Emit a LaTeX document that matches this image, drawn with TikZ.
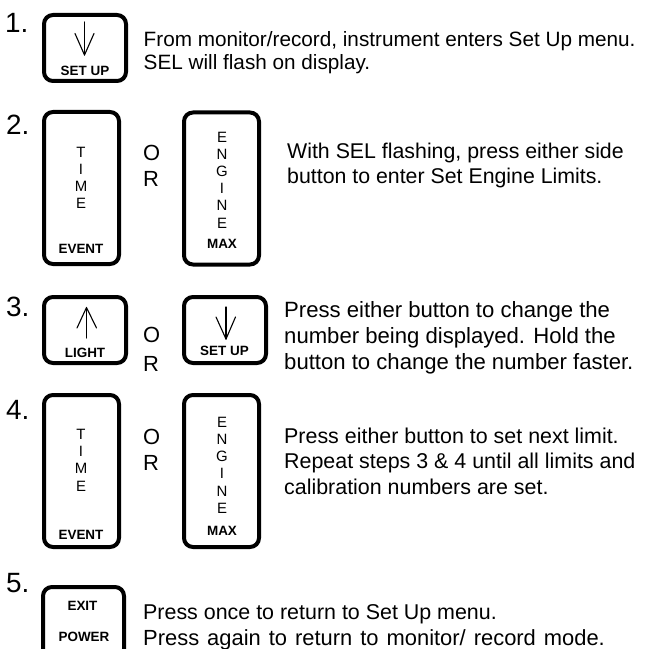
\documentclass[tikz,border=0pt]{standalone}
\usepackage{fontspec}
\setmainfont{Liberation Sans}
\begin{document}
\begin{tikzpicture}[x=1bp,y=-1bp,
  btn/.style={draw, line width=4bp, rounded corners=9bp, inner sep=0pt},
  wide/.style={btn, minimum width=82bp, minimum height=66bp},
  tall/.style={btn, minimum width=75bp, minimum height=152bp},
  num/.style={anchor=base west, inner sep=0pt, font=\fontsize{28}{28}\selectfont},
  txt/.style={anchor=base west, inner sep=0pt},
  lab/.style={inner sep=0pt, font=\bfseries\fontsize{13.5}{14}\selectfont},
  vert/.style={inner sep=0pt, align=center, font=\fontsize{15}{17.3}\selectfont},
  orl/.style={anchor=base west, inner sep=0pt, font=\fontsize{22}{22}\selectfont},
  arr/.style={line width=1.1bp, line cap=round, line join=round}]
\useasboundingbox (0,0) rectangle (651,649);

% ---------- step 1
\node[num] (n1) at (5,33) {1.};
\node[wide] (b1) at (85,48) {};
\node[lab] (l1) at (85,71) {SET UP};
\draw[arr] (84.5,22) -- (84.5,55);
\draw[arr] (75,33.5) -- (84.5,55) -- (94,33.5);
\begin{scope}[font=\fontsize{20.8}{23}\selectfont]
\node[txt] (t1a) at (143.5,47) {From monitor/record, instrument enters Set Up menu.};
\node[txt] (t1b) at (143.5,70) {SEL will flash on display.};
\end{scope}

% ---------- step 2
\node[num] (n2) at (6,134) {2.};
\node[tall] (b2a) at (81.5,188) {};
\node[vert] (v2a) at (81,178) {T\\I\\M\\E};
\node[lab] (l2a) at (81,248.5) {EVENT};
\node[orl] (o2a) at (143,160) {O};
\node[orl] (o2b) at (143,186) {R};
\node[tall] (b2b) at (221.5,188.5) {};
\node[vert] (v2b) at (222,180) {E\\N\\G\\I\\N\\E};
\node[lab] (l2b) at (222,244) {MAX};
\begin{scope}[font=\fontsize{21.4}{25}\selectfont]
\node[txt] (t2a) at (287,158) {With SEL flashing, press either side};
\node[txt] (t2b) at (287,183) {button to enter Set Engine Limits.};
\end{scope}

% ---------- step 3
\node[num] (n3) at (6,316) {3.};
\node[wide] (b3a) at (85,330) {};
\node[lab] (l3a) at (85,353) {LIGHT};
\draw[arr] (86.5,307.5) -- (86.5,338);
\draw[arr] (77,328) -- (86.5,307.5) -- (96.5,328);
\node[orl] (o3a) at (143,342) {O};
\node[orl] (o3b) at (143,371) {R};
\node[wide] (b3b) at (225,330) {};
\node[lab] (l3b) at (224.5,351) {SET UP};
\draw[arr] (226,307) -- (226,339);
\draw[arr] (216,317) -- (226,339) -- (235.5,317);
\begin{scope}[font=\fontsize{22.2}{26}\selectfont]
\node[txt] (t3a) at (284,317) {Press either button to change the};
\node[txt] (t3b) at (284,343) {number being displayed. Hold the};
\node[txt] (t3c) at (284,369) {button to change the number faster.};
\end{scope}

% ---------- step 4
\node[num] (n4) at (6,419) {4.};
\node[tall] (b4a) at (81.5,471) {};
\node[vert] (v4a) at (81,460) {T\\I\\M\\E};
\node[lab] (l4a) at (81,535) {EVENT};
\node[orl] (o4a) at (143,444) {O};
\node[orl] (o4b) at (143,470) {R};
\node[tall] (b4b) at (221.5,471) {};
\node[vert] (v4b) at (222,465) {E\\N\\G\\I\\N\\E};
\node[lab] (l4b) at (222,530.5) {MAX};
\begin{scope}[font=\fontsize{21.5}{25.5}\selectfont]
\node[txt] (t4a) at (284,443) {Press either button to set next limit.};
\node[txt] (t4b) at (284,468.5) {Repeat steps 3 \& 4 until all limits and};
\node[txt] (t4c) at (284,494) {calibration numbers are set.};
\end{scope}

% ---------- step 5
\node[num] (n5) at (6,592) {5.};
\node[btn, minimum width=81bp, minimum height=71bp] (b5) at (83.5,622.5) {};
\node[lab] (l5a) at (82.5,606) {EXIT};
\node[lab] (l5b) at (84,636.5) {POWER};
\begin{scope}[font=\fontsize{21.5}{26}\selectfont]
\node[txt] (t5a) at (143,619) {Press once to return to Set Up menu.};
\node[txt] (t5b) at (143,645) {\fontsize{22}{26}\selectfont\spaceskip=8bp plus 1bp Press again to return to monitor/ record mode.};
\end{scope}
\end{tikzpicture}
\end{document}
